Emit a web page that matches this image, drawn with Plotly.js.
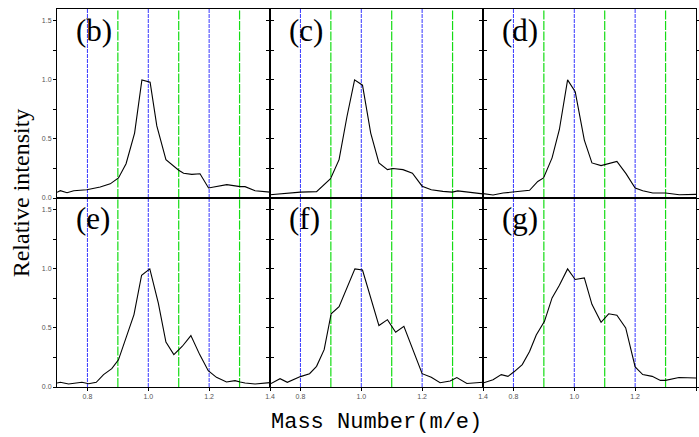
<!DOCTYPE html>
<html>
<head>
<meta charset="utf-8">
<script src="https://cdn.plot.ly/plotly-3.0.1.min.js"></script>
<style>html,body{margin:0;padding:0;background:#fff;}#chart{width:699px;height:437px;}</style>
</head>
<body>
<div id="chart"></div>
<script>
// Panel labels
const panelLabels = ["(b)", "(c)", "(d)", "(e)", "(f)", "(g)"];

// Reference lines
const blueLines = [0.8, 1.0, 1.2];
const greenLines = [0.9, 1.1, 1.3];

// Panel (b)
const xB = [0.70,0.711,0.733,0.755,0.798,0.842,0.875,0.902,0.927,0.955,0.979,1.006,1.028,1.058,1.10,1.116,1.143,1.17,1.198,1.225,1.258,1.302,1.318,1.351,1.40];
const yB = [0.048,0.062,0.045,0.062,0.07,0.093,0.12,0.17,0.29,0.55,1.0,0.98,0.61,0.325,0.235,0.21,0.20,0.205,0.085,0.10,0.113,0.096,0.096,0.062,0.05];
// Panel (c)
const xC = [0.70,0.80,0.853,0.899,0.927,0.953,0.978,1.004,1.031,1.058,1.086,1.104,1.137,1.168,1.20,1.23,1.268,1.299,1.317,1.388,1.40];
const yC = [0.028,0.05,0.054,0.164,0.325,0.69,1.0,0.955,0.55,0.297,0.24,0.25,0.24,0.21,0.10,0.07,0.056,0.05,0.06,0.037,0.035];
// Panel (d)
const xD = [0.70,0.733,0.766,0.80,0.853,0.88,0.899,0.927,0.951,0.978,1.003,1.033,1.058,1.088,1.14,1.17,1.20,1.225,1.258,1.30,1.345,1.40];
const yD = [0.037,0.025,0.042,0.05,0.065,0.14,0.17,0.34,0.58,1.0,0.90,0.49,0.297,0.274,0.31,0.206,0.085,0.062,0.042,0.042,0.028,0.031];
// Panel (e)
const xE = [0.70,0.711,0.738,0.782,0.804,0.829,0.853,0.88,0.902,0.927,0.953,0.978,1.005,1.033,1.058,1.084,1.112,1.14,1.169,1.197,1.224,1.257,1.285,1.302,1.318,1.351,1.40];
const yE = [0.034,0.04,0.025,0.04,0.028,0.04,0.105,0.155,0.23,0.415,0.613,0.946,1.0,0.71,0.38,0.274,0.345,0.435,0.274,0.138,0.082,0.042,0.054,0.042,0.034,0.025,0.037];
// Panel (f)
const xF = [0.70,0.733,0.757,0.80,0.83,0.853,0.878,0.901,0.927,0.954,0.979,1.004,1.031,1.058,1.086,1.113,1.14,1.17,1.20,1.23,1.259,1.292,1.314,1.347,1.40];
const yF = [0.025,0.07,0.04,0.088,0.113,0.175,0.316,0.62,0.68,0.84,1.0,0.99,0.754,0.52,0.57,0.463,0.514,0.316,0.113,0.082,0.036,0.05,0.08,0.03,0.04];
// Panel (g)
const xG = [0.70,0.711,0.733,0.76,0.782,0.804,0.829,0.853,0.875,0.902,0.927,0.951,0.978,1.003,1.033,1.058,1.088,1.113,1.14,1.169,1.20,1.225,1.256,1.283,1.30,1.344,1.40];
const yG = [0.034,0.042,0.062,0.105,0.09,0.133,0.19,0.30,0.44,0.556,0.754,0.862,1.0,0.91,0.924,0.70,0.548,0.62,0.607,0.50,0.17,0.105,0.09,0.056,0.056,0.08,0.076];

const xs = [xB, xC, xD, xE, xF, xG];
const ys = [yB, yC, yD, yE, yF, yG];

const traces = xs.map((x, i) => ({
  x: x, y: ys[i], type: 'scatter', mode: 'lines',
  line: {color: '#000', width: 1.1},
  xaxis: 'x' + (i === 0 ? '' : i + 1),
  yaxis: 'y' + (i === 0 ? '' : i + 1),
  showlegend: false, hoverinfo: 'skip'
}));

const xDomains = [[0, 1/3], [1/3, 2/3], [2/3, 1]];
const yDomains = [[0.5, 1], [0, 0.5]];
const tickFont = {family: 'Liberation Sans, Arial, sans-serif', size: 7, color: '#555'};

const layout = {
  width: 699, height: 437,
  margin: {l: 57, r: 3, t: 9, b: 50},
  paper_bgcolor: '#fff', plot_bgcolor: '#fff',
  showlegend: false,
  shapes: [], annotations: []
};

for (let i = 0; i < 6; i++) {
  const col = i % 3, row = Math.floor(i / 3);
  const sfx = i === 0 ? '' : String(i + 1);
  layout['xaxis' + sfx] = {
    domain: xDomains[col], range: [0.7, 1.4], anchor: 'y' + sfx,
    showline: true, linecolor: '#000', linewidth: 1, mirror: true,
    showgrid: false, zeroline: false,
    ticks: row === 1 ? 'outside' : '', ticklen: 3, tickcolor: '#000',
    tickvals: [0.8, 1.0, 1.2, 1.4], ticktext: ['0.8', '1.0', '1.2', '1.4'],
    showticklabels: row === 1, tickfont: tickFont
  };
  layout['yaxis' + sfx] = {
    domain: yDomains[row], range: [0, 1.6], anchor: 'x' + sfx,
    showline: true, linecolor: '#000', linewidth: 1, mirror: 'ticks',
    showgrid: false, zeroline: false,
    ticks: 'outside', ticklen: 3, tickcolor: '#000',
    tickvals: [0, 0.5, 1.0, 1.5], ticktext: ['0.0', '0.5', '1.0', '1.5'],
    minor: {tickvals: [0.25, 0.75, 1.25], ticks: 'outside', ticklen: 3, tickcolor: '#000'},
    showticklabels: col === 0, tickfont: tickFont
  };
  blueLines.forEach(v => layout.shapes.push({
    type: 'line', xref: 'x' + sfx, yref: 'y' + sfx + ' domain',
    x0: v, x1: v, y0: 0, y1: 1, layer: 'below',
    line: {color: 'rgb(55,55,255)', width: 1, dash: '4px,1px'}
  }));
  greenLines.forEach(v => layout.shapes.push({
    type: 'line', xref: 'x' + sfx, yref: 'y' + sfx + ' domain',
    x0: v, x1: v, y0: 0, y1: 1, layer: 'below',
    line: {color: 'rgb(20,220,20)', width: 1.2, dash: '9px,1.5px'}
  }));
  layout.annotations.push({
    text: panelLabels[i], xref: 'x' + sfx, yref: 'y' + sfx + ' domain',
    x: 0.757, y: row === 0 ? 0.884 : 0.894, xanchor: 'left', yanchor: 'middle',
    showarrow: false,
    font: {family: 'Liberation Serif, Times New Roman, serif', size: 31, color: '#000'}
  });
}

layout.annotations.push({
  text: 'Relative intensity', xref: 'paper', yref: 'paper',
  x: -0.056, y: 0.513, xanchor: 'center', yanchor: 'middle', textangle: -90,
  showarrow: false,
  font: {family: 'Liberation Serif, Times New Roman, serif', size: 24, color: '#000'}
});
layout.annotations.push({
  text: 'Mass Number(m/e)', xref: 'paper', yref: 'paper',
  x: 0.5, y: -0.0926, xanchor: 'center', yanchor: 'middle',
  showarrow: false,
  font: {family: 'Liberation Mono, DejaVu Sans Mono, monospace', size: 22, color: '#000'}
});

Plotly.newPlot('chart', traces, layout, {staticPlot: true, displayModeBar: false});
</script>
</body>
</html>
